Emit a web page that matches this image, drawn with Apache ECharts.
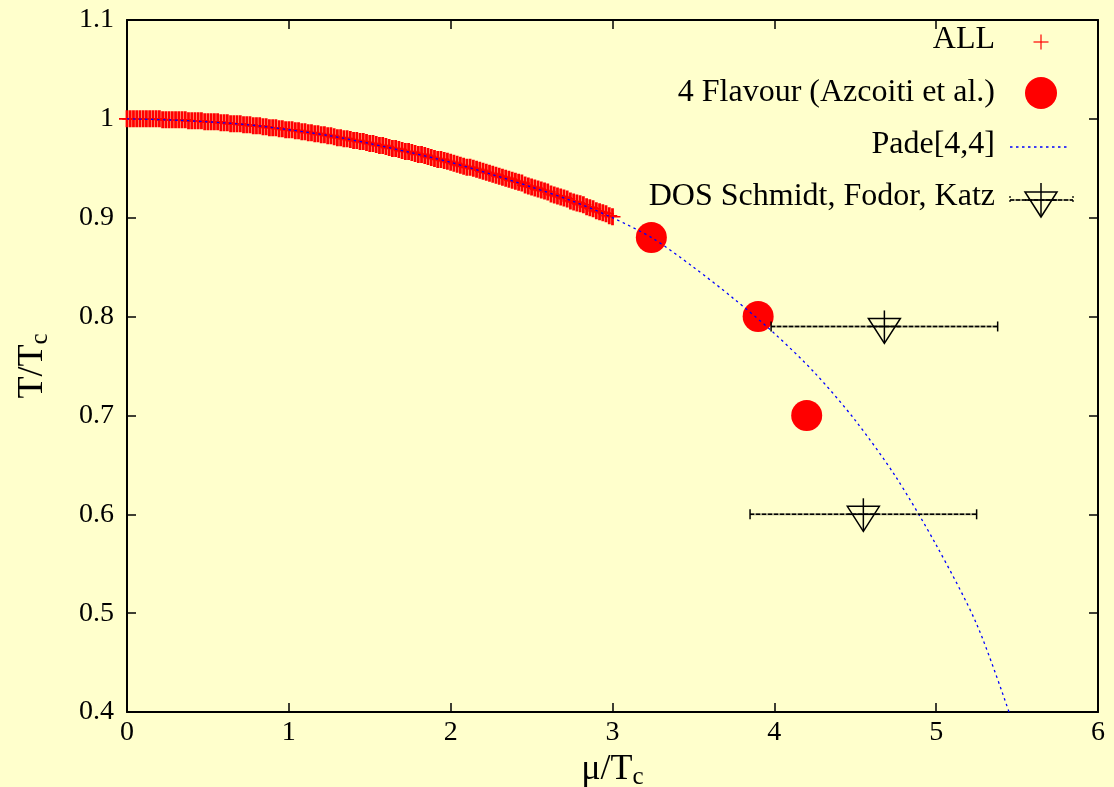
<!DOCTYPE html>
<html>
<head>
<meta charset="utf-8">
<title>T/Tc vs mu/Tc</title>
<script src="https://cdn.jsdelivr.net/npm/echarts@6/dist/echarts.min.js"></script>
<style>
  html, body { margin: 0; padding: 0; background: #ffffcc; }
  #chart { width: 1114px; height: 787px; }
</style>
</head>
<body>
<div id="chart"></div>
<script>
// Axis ticks
const xTicks = [0, 1, 2, 3, 4, 5, 6];
const yTicks = [0.4, 0.5, 0.6, 0.7, 0.8, 0.9, 1.0, 1.1];

// "ALL" samples along the transition line
const allMu = [
  0.00, 0.02, 0.04, 0.06, 0.08, 0.10, 0.12, 0.14, 0.16, 0.18,
  0.20, 0.22, 0.24, 0.26, 0.28, 0.30, 0.32, 0.34, 0.36, 0.38,
  0.40, 0.42, 0.44, 0.46, 0.48, 0.50, 0.52, 0.54, 0.56, 0.58,
  0.60, 0.62, 0.64, 0.66, 0.68, 0.70, 0.72, 0.74, 0.76, 0.78,
  0.80, 0.82, 0.84, 0.86, 0.88, 0.90, 0.92, 0.94, 0.96, 0.98,
  1.00, 1.02, 1.04, 1.06, 1.08, 1.10, 1.12, 1.14, 1.16, 1.18,
  1.20, 1.22, 1.24, 1.26, 1.28, 1.30, 1.32, 1.34, 1.36, 1.38,
  1.40, 1.42, 1.44, 1.46, 1.48, 1.50, 1.52, 1.54, 1.56, 1.58,
  1.60, 1.62, 1.64, 1.66, 1.68, 1.70, 1.72, 1.74, 1.76, 1.78,
  1.80, 1.82, 1.84, 1.86, 1.88, 1.90, 1.92, 1.94, 1.96, 1.98,
  2.00, 2.02, 2.04, 2.06, 2.08, 2.10, 2.12, 2.14, 2.16, 2.18,
  2.20, 2.22, 2.24, 2.26, 2.28, 2.30, 2.32, 2.34, 2.36, 2.38,
  2.40, 2.42, 2.44, 2.46, 2.48, 2.50, 2.52, 2.54, 2.56, 2.58,
  2.60, 2.62, 2.64, 2.66, 2.68, 2.70, 2.72, 2.74, 2.76, 2.78,
  2.80, 2.82, 2.84, 2.86, 2.88, 2.90, 2.92, 2.94, 2.96, 2.98,
  3.00
];
const allT = [
  1.000, 1.000, 1.000, 1.000, 1.000, 1.000, 1.000, 1.000, 1.000, 1.000,
  1.000, 0.999, 0.999, 0.999, 0.999, 0.999, 0.999, 0.999, 0.999, 0.998,
  0.998, 0.998, 0.998, 0.998, 0.997, 0.997, 0.997, 0.997, 0.997, 0.996,
  0.996, 0.996, 0.995, 0.995, 0.995, 0.995, 0.994, 0.994, 0.994, 0.993,
  0.993, 0.993, 0.992, 0.992, 0.991, 0.991, 0.991, 0.990, 0.990, 0.989,
  0.989, 0.989, 0.988, 0.988, 0.987, 0.987, 0.986, 0.986, 0.985, 0.985,
  0.984, 0.984, 0.983, 0.983, 0.982, 0.981, 0.981, 0.980, 0.980, 0.979,
  0.978, 0.978, 0.977, 0.977, 0.976, 0.975, 0.975, 0.974, 0.973, 0.973,
  0.972, 0.971, 0.970, 0.970, 0.969, 0.968, 0.967, 0.967, 0.966, 0.965,
  0.964, 0.964, 0.963, 0.962, 0.961, 0.960, 0.959, 0.959, 0.958, 0.957,
  0.956, 0.955, 0.954, 0.953, 0.952, 0.951, 0.951, 0.950, 0.949, 0.948,
  0.947, 0.946, 0.945, 0.944, 0.943, 0.942, 0.941, 0.940, 0.939, 0.938,
  0.937, 0.936, 0.935, 0.933, 0.932, 0.931, 0.930, 0.929, 0.928, 0.927,
  0.926, 0.924, 0.923, 0.922, 0.921, 0.920, 0.919, 0.917, 0.916, 0.915,
  0.914, 0.913, 0.911, 0.910, 0.909, 0.907, 0.906, 0.905, 0.904, 0.902,
  0.901
];

// 4 flavour points (Azcoiti et al.)
const flavourMu = [3.24, 3.90, 4.20];
const flavourT  = [0.88, 0.80, 0.70];

// Pade[4,4] curve
const padeMu = [0, 0.25, 0.5, 0.75, 1.0, 1.25, 1.5, 1.75, 2.0, 2.25, 2.5, 2.75,
                3.0, 3.25, 3.5, 3.75, 4.0, 4.25, 4.5, 4.75, 5.0, 5.25, 5.45];
const padeT  = [1.000, 0.999, 0.997, 0.994, 0.989, 0.983, 0.975, 0.966, 0.956, 0.944, 0.931, 0.917,
                0.900, 0.879, 0.850, 0.818, 0.783, 0.743, 0.695, 0.638, 0.569, 0.489, 0.400];

// DOS (Schmidt, Fodor, Katz) with horizontal error bars
const dosMu   = [4.68, 4.55];
const dosT    = [0.79, 0.60];
const dosMuLo = [3.98, 3.85];
const dosMuHi = [5.38, 5.25];

const FONT = '"Liberation Serif", "DejaVu Serif", serif';
const RED = '#ff0000';
const BLUE = '#0000ff';

// plus sign as a filled outline in a 16x16 box (heavier upright stroke)
const PLUS_PATH = 'path://M6.6,0H9.4V7.2H16V8.8H9.4V16H6.6V8.8H0V7.2H6.6Z';

const chart = echarts.init(document.getElementById('chart'), null, { renderer: 'canvas' });

const fmtY = v => String(Number(v.toFixed(1)));

const axisCommon = {
  axisLine: { show: true, onZero: false, lineStyle: { color: '#000', width: 2 } },
  axisTick: { show: true, inside: true, length: 9, lineStyle: { color: '#000', width: 1.5 } },
  splitLine: { show: false }
};

function dosItem(params, api) {
  const c = api.coord([api.value(0), api.value(1)]);
  const lo = api.coord([api.value(2), api.value(1)]);
  const hi = api.coord([api.value(3), api.value(1)]);
  const cx = c[0], cy = c[1];
  const blk = { stroke: '#000', lineWidth: 1.5 };
  return {
    type: 'group',
    children: [
      { type: 'line', shape: { x1: lo[0], y1: lo[1], x2: hi[0], y2: hi[1] },
        style: { stroke: 'rgba(0,0,0,0.4)', lineWidth: 2 } },
      { type: 'line', shape: { x1: lo[0], y1: lo[1], x2: hi[0], y2: hi[1] },
        style: { stroke: '#000', lineWidth: 1.4, lineDash: [4, 2] } },
      { type: 'line', shape: { x1: lo[0], y1: lo[1] - 5, x2: lo[0], y2: lo[1] + 5 }, style: blk },
      { type: 'line', shape: { x1: hi[0], y1: hi[1] - 5, x2: hi[0], y2: hi[1] + 5 }, style: blk },
      { type: 'polygon', shape: { points: [[cx - 16, cy - 8], [cx + 16, cy - 8], [cx, cy + 17]] },
        style: { fill: 'none', stroke: '#000', lineWidth: 1.5 } },
      { type: 'line', shape: { x1: cx, y1: cy - 16, x2: cx, y2: cy + 16 }, style: blk },
      { type: 'line', shape: { x1: cx - 16, y1: cy, x2: cx + 16, y2: cy }, style: blk }
    ]
  };
}

// Key, drawn at the upper right of the plot
const keyX = 995;       // right edge of key text
const keyIconX = 1041;  // centre of key symbols
const keyFont = '32px ' + FONT;
function keyText(label, y) {
  return {
    type: 'text', x: keyX, y: y, z: 100,
    style: { text: label, font: keyFont, fill: '#000',
             align: 'right', textAlign: 'right', verticalAlign: 'middle', textVerticalAlign: 'middle' }
  };
}
const keyGraphics = [
  keyText('ALL', 40),
  { type: 'line', z: 100, shape: { x1: keyIconX - 7.5, y1: 42, x2: keyIconX + 7.5, y2: 42 }, style: { stroke: RED, lineWidth: 1.2 } },
  { type: 'line', z: 100, shape: { x1: keyIconX, y1: 34.5, x2: keyIconX, y2: 49.5 }, style: { stroke: RED, lineWidth: 1.2 } },

  keyText('4 Flavour (Azcoiti et al.)', 93),
  { type: 'circle', z: 100, shape: { cx: keyIconX, cy: 93, r: 16 }, style: { fill: RED } },

  keyText('Pade[4,4]', 145),
  { type: 'line', z: 100, shape: { x1: 1010, y1: 147, x2: 1067, y2: 147 },
    style: { stroke: BLUE, lineWidth: 1.3, lineDash: [2.5, 3.5] } },

  keyText('DOS Schmidt, Fodor, Katz', 197),
  { type: 'line', z: 100, shape: { x1: 1010, y1: 200, x2: 1073, y2: 200 }, style: { stroke: 'rgba(0,0,0,0.4)', lineWidth: 2 } },
  { type: 'line', z: 100, shape: { x1: 1010, y1: 200, x2: 1073, y2: 200 }, style: { stroke: '#000', lineWidth: 1.4, lineDash: [4, 2] } },
  { type: 'line', z: 100, shape: { x1: 1010, y1: 196, x2: 1010, y2: 204 }, style: { stroke: '#000', lineWidth: 1.3, lineDash: [2, 2] } },
  { type: 'line', z: 100, shape: { x1: 1073, y1: 196, x2: 1073, y2: 204 }, style: { stroke: '#000', lineWidth: 1.3, lineDash: [2, 2] } },
  { type: 'polygon', z: 100, shape: { points: [[keyIconX - 16, 192], [keyIconX + 16, 192], [keyIconX, 217]] },
    style: { fill: 'none', stroke: '#000', lineWidth: 1.5 } },
  { type: 'line', z: 100, shape: { x1: keyIconX, y1: 183, x2: keyIconX, y2: 217 }, style: { stroke: '#000', lineWidth: 1.5 } },
  { type: 'line', z: 100, shape: { x1: keyIconX - 16, y1: 200, x2: keyIconX + 16, y2: 200 }, style: { stroke: '#000', lineWidth: 1.5 } }
];

const nameRich = {
  a: { fontFamily: FONT, fontSize: 36, color: '#000' },
  b: { fontFamily: FONT, fontSize: 25, color: '#000', padding: [16, 0, 0, 0] }
};

const option = {
  backgroundColor: '#ffffcc',
  animation: false,
  grid: { left: 127, right: 16, top: 20, bottom: 75, containLabel: false, outerBoundsMode: 'none' },
  xAxis: [
    Object.assign({}, axisCommon, {
      type: 'value', position: 'bottom', min: xTicks[0], max: xTicks[xTicks.length - 1], interval: 1,
      name: '{a|\u03bc/T}{b|c}', nameLocation: 'middle', nameGap: 26,
      nameTextStyle: { rich: nameRich },
      axisLabel: { show: true, margin: 7, color: '#000', fontFamily: FONT, fontSize: 28, formatter: v => String(v) }
    }),
    Object.assign({}, axisCommon, {
      type: 'value', position: 'top', min: xTicks[0], max: xTicks[xTicks.length - 1], interval: 1,
      axisLabel: { show: false }
    })
  ],
  yAxis: [
    Object.assign({}, axisCommon, {
      type: 'value', position: 'left', min: yTicks[0], max: yTicks[yTicks.length - 1], interval: 0.1,
      name: '{a|T/T}{b|c}', nameLocation: 'middle', nameGap: 74, nameRotate: 90,
      nameTextStyle: { rich: nameRich },
      axisLabel: { show: true, margin: 13, color: '#000', fontFamily: FONT, fontSize: 28, formatter: fmtY }
    }),
    Object.assign({}, axisCommon, {
      type: 'value', position: 'right', min: yTicks[0], max: yTicks[yTicks.length - 1], interval: 0.1,
      axisLabel: { show: false }
    })
  ],
  graphic: keyGraphics,
  series: [
    {
      name: 'ALL', type: 'scatter', silent: true, z: 2,
      xAxisIndex: 0, yAxisIndex: 0,
      symbol: PLUS_PATH, symbolSize: [16, 17],
      itemStyle: { color: RED, opacity: 1 },
      data: allMu.map((m, i) => [m, allT[i]])
    },
    {
      name: '4 Flavour (Azcoiti et al.)', type: 'scatter', silent: true, z: 3,
      xAxisIndex: 0, yAxisIndex: 0,
      symbol: 'circle', symbolSize: 31,
      itemStyle: { color: RED, opacity: 1 },
      data: flavourMu.map((m, i) => [m, flavourT[i]])
    },
    {
      name: 'Pade[4,4]', type: 'line', silent: true, z: 4,
      xAxisIndex: 0, yAxisIndex: 0,
      showSymbol: false, smooth: 0.3,
      lineStyle: { color: BLUE, width: 1.3, type: [2.5, 3.5] },
      data: padeMu.map((m, i) => [m, padeT[i]])
    },
    {
      name: 'DOS Schmidt, Fodor, Katz', type: 'custom', silent: true, z: 5,
      xAxisIndex: 0, yAxisIndex: 0,
      renderItem: dosItem,
      data: dosMu.map((m, i) => [m, dosT[i], dosMuLo[i], dosMuHi[i]])
    }
  ]
};

chart.setOption(option);
</script>
</body>
</html>
